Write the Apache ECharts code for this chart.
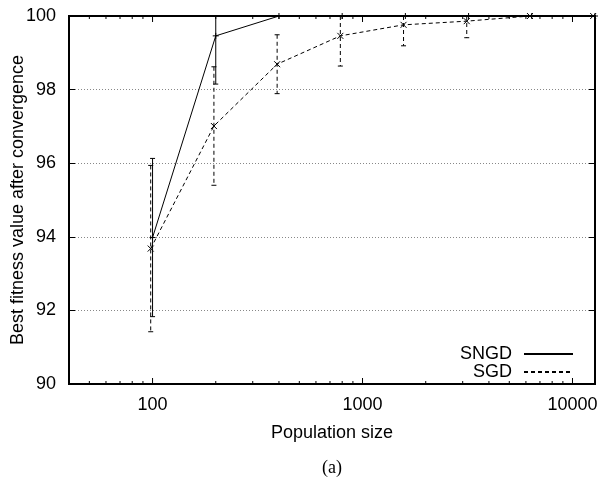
<!DOCTYPE html>
<html><head><meta charset="utf-8">
<script src="https://cdn.jsdelivr.net/npm/echarts@6/dist/echarts.min.js"></script>
<style>html,body{margin:0;padding:0;background:#fff}#c{width:600px;height:481px}</style>
</head><body><div id="c"></div>
<script>
// ---- data ----
const popSizes    = [100, 200, 400, 800, 1600, 3200, 6400, 12800];
const sgdPopSizes = [98, 196, 392, 784, 1568, 3136, 6272, 12544];
const sngdMean = [93.98, 99.46, 100, 100, 100, 100, 100, 100];
const sngdErr  = [2.15, 1.31, 0, 0, 0, 0, 0, 0];
const sgdMean  = [93.68, 97.01, 98.69, 99.46, 99.76, 99.86, 100, 100];
const sgdErr   = [2.26, 1.61, 0.80, 0.82, 0.57, 0.45, 0, 0];
const xMajorTicks = [100, 1000, 10000];
const xTickLabels = ['100', '1000', '10000'];
const xMinorTicks = [50, 60, 70, 80, 90, 200, 300, 400, 500, 600, 700, 800, 900,
                     2000, 3000, 4000, 5000, 6000, 7000, 8000, 9000];
const yTickLabels = ['90', '92', '94', '96', '98', '100'];
const seriesNames = ['SNGD', 'SGD'];

const FONT = 'Liberation Sans';
const FS = 18;
const chart = echarts.init(document.getElementById('c'), null, {renderer: 'canvas'});

const sngdPts = popSizes.map((x, i) => [x, sngdMean[i]]);
const sgdPts = sgdPopSizes.map((x, i) => [x, sgdMean[i]]);
const sngdErrData = popSizes.map((x, i) => [x, sngdMean[i], sngdErr[i]]);
const sgdErrData = sgdPopSizes.map((x, i) => [x, sgdMean[i], sgdErr[i]]);
const tickData = xMajorTicks.map(v => [v, 1]).concat(xMinorTicks.map(v => [v, 0]));

function errRender(dashed, marker) {
  return function (params, api) {
    const cs = params.coordSys;
    const x = api.value(0), m = api.value(1), e = api.value(2);
    const p = api.coord([x, m]);
    const children = [];
    const bar = {stroke: '#000', lineWidth: 1, lineDash: dashed ? [4, 3] : null};
    const plain = {stroke: '#000', lineWidth: 1};
    if (e > 0) {
      let top = api.coord([x, m + e])[1], bot = api.coord([x, m - e])[1];
      const topClip = top < cs.y, botClip = bot > cs.y + cs.height;
      top = Math.max(top, cs.y); bot = Math.min(bot, cs.y + cs.height);
      children.push({type: 'line', shape: {x1: p[0], y1: top, x2: p[0], y2: bot}, style: bar});
      if (!topClip) children.push({type: 'line', shape: {x1: p[0] - 2.5, y1: top, x2: p[0] + 2.5, y2: top}, style: plain});
      if (!botClip) children.push({type: 'line', shape: {x1: p[0] - 2.5, y1: bot, x2: p[0] + 2.5, y2: bot}, style: plain});
    }
    const s = 3;
    if (marker === 'plus') {
      children.push({type: 'line', shape: {x1: p[0] - s, y1: p[1], x2: p[0] + s, y2: p[1]}, style: plain});
      children.push({type: 'line', shape: {x1: p[0], y1: p[1] - s, x2: p[0], y2: p[1] + s}, style: plain});
    } else {
      children.push({type: 'line', shape: {x1: p[0] - s, y1: p[1] - s, x2: p[0] + s, y2: p[1] + s}, style: plain});
      children.push({type: 'line', shape: {x1: p[0] - s, y1: p[1] + s, x2: p[0] + s, y2: p[1] - s}, style: plain});
    }
    return {type: 'group', children};
  };
}

function tickRender(params, api) {
  const cs = params.coordSys;
  const v = api.value(0), major = api.value(1) === 1;
  const len = major ? 6 : 3;
  const x = api.coord([v, 90])[0];
  const st = {stroke: '#000', lineWidth: 1};
  return {type: 'group', children: [
    {type: 'line', shape: {x1: x, y1: cs.y + cs.height, x2: x, y2: cs.y + cs.height - len}, style: st},
    {type: 'line', shape: {x1: x, y1: cs.y, x2: x, y2: cs.y + len}, style: st}
  ]};
}

function borderRender(params, api) {
  const cs = params.coordSys;
  return {type: 'rect', shape: {x: cs.x, y: cs.y, width: cs.width, height: cs.height},
    style: {fill: 'none', stroke: '#000', lineWidth: 2}, z2: 100};
}

const yAxisCommon = {
  type: 'value', min: 90, max: 100, interval: 2,
  axisLine: {show: false},
  axisTick: {show: true, inside: true, length: 6, lineStyle: {color: '#000', width: 1}},
};

chart.setOption({
  animation: false,
  backgroundColor: '#fff',
  textStyle: {fontFamily: FONT},
  grid: {left: 69, right: 5, top: 16, bottom: 97, containLabel: false, outerBoundsMode: 'none'},
  legend: {
    data: seriesNames, orient: 'vertical', right: 21, top: 340, align: 'right',
    itemWidth: 49, itemHeight: 14, itemGap: 0,
    itemStyle: {opacity: 0},
    textStyle: {fontFamily: FONT, fontSize: FS, lineHeight: 18, color: '#000', padding: [0, 7, 0, 0]},
    inactiveColor: '#000', selectedMode: false
  },
  xAxis: {
    type: 'log', logBase: 10, min: 40, max: 12800,
    axisLine: {show: false}, axisTick: {show: false}, splitLine: {show: false}, minorTick: {show: false},
    axisLabel: {
      interval: 0, margin: 12, color: '#000', fontSize: FS, fontFamily: FONT,
      formatter: function (v) {
        for (let i = 0; i < xMajorTicks.length; i++) {
          if (Math.abs(v - xMajorTicks[i]) / xMajorTicks[i] < 1e-6) return xTickLabels[i];
        }
        return '';
      }
    },
    name: 'Population size', nameLocation: 'middle', nameGap: 40, nameMoveOverlap: false,
    nameTextStyle: {fontFamily: FONT, fontSize: FS, color: '#000'}
  },
  yAxis: [
    Object.assign({}, yAxisCommon, {
      position: 'left',
      axisLabel: {margin: 13, color: '#000', fontSize: FS, fontFamily: FONT,
        formatter: v => yTickLabels[Math.round((v - 90) / 2)] || ''},
      splitLine: {show: true, lineStyle: {color: '#888', type: [1, 2], width: 1}},
      name: 'Best fitness value after convergence', nameLocation: 'middle', nameGap: 42,
      nameMoveOverlap: false,
      nameTextStyle: {fontFamily: FONT, fontSize: FS, color: '#000'}
    }),
    Object.assign({}, yAxisCommon, {
      position: 'right', axisLabel: {show: false}, splitLine: {show: false}
    })
  ],
  graphic: [{
    type: 'text', x: 332, y: 468,
    style: {text: '(a)', fill: '#000', font: '18px "Liberation Serif"', textAlign: 'center', textVerticalAlign: 'middle'}
  }],
  series: [
    {name: 'SNGD', type: 'line', data: sngdPts, symbol: 'none', showSymbol: false,
      lineStyle: {color: '#000', width: 1, type: 'solid'}, itemStyle: {color: '#000'}, clip: true, z: 3},
    {name: 'SGD', type: 'line', data: sgdPts, symbol: 'none', showSymbol: false,
      lineStyle: {color: '#000', width: 1, type: [4, 3]}, itemStyle: {color: '#000'}, clip: true, z: 3},
    {type: 'custom', data: sngdErrData, renderItem: errRender(false, 'plus'), clip: false, z: 4, silent: true,
      encode: {x: 0, y: 1}},
    {type: 'custom', data: sgdErrData, renderItem: errRender(true, 'cross'), clip: false, z: 4, silent: true,
      encode: {x: 0, y: 1}},
    {type: 'custom', data: tickData, renderItem: tickRender, clip: false, z: 5, silent: true,
      encode: {x: 0}},
    {type: 'custom', data: [[100, 95]], renderItem: borderRender, clip: false, z: 10, silent: true,
      encode: {x: 0, y: 1}}
  ]
});
</script>
</body></html>
